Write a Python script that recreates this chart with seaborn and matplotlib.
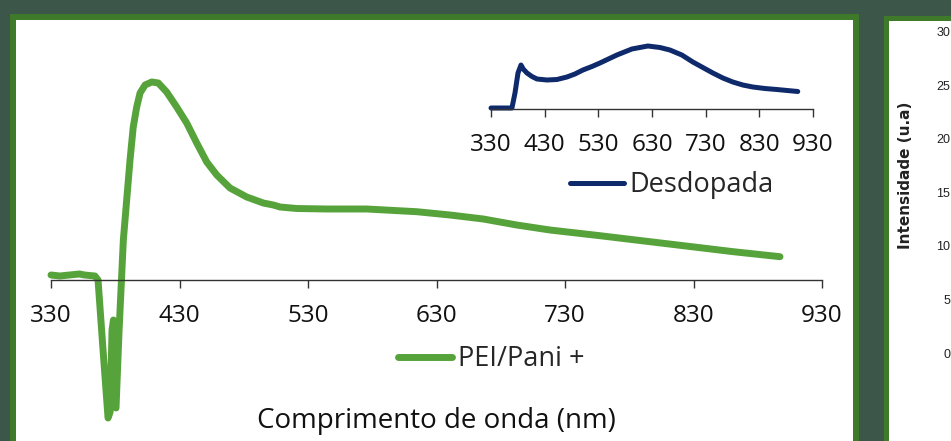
import matplotlib.pyplot as plt
import matplotlib.patches as patches
import seaborn as sns

# PEI/Pani + spectrum (main chart)
wl_pani = [330, 337, 340.5, 348.3, 352.2, 356.1, 360, 364.2, 366.6, 370.5, 374.4, 376, 377.5,
           378.6, 379.4, 380.6, 383, 386.3, 388.9, 391.5, 394.0, 396.7, 399.3, 403.2, 408.4,
           413.5, 420.0, 427.8, 435.6, 443.4, 451.2, 459.0, 469.3, 482.3, 495.2, 503.0,
           508.2, 521.2, 544.6, 575.7, 614.6, 640.5, 666.4, 692.4, 718.3, 757.2, 796.1,
           835.1, 861.0, 897.3]
int_pani = [0.5, 0.4, 0.45, 0.55, 0.6, 0.5, 0.45, 0.4, 0.0, -7.0, -13.8, -13.2, -5.0,
            -4.0, -12.5, -12.8, -5.0, 4.0, 8.0, 12.0, 15.3, 17.3, 18.7, 19.5, 19.8,
            19.7, 18.8, 17.3, 15.7, 13.7, 11.8, 10.5, 9.2, 8.3, 7.7, 7.5,
            7.3, 7.15, 7.1, 7.1, 6.83, 6.5, 6.1, 5.5, 5.0, 4.43, 3.83,
            3.23, 2.83, 2.33]

# Desdopada spectrum (inset)
wl_desd = [330, 369, 374.7, 380.3, 385.9, 390.0, 397.0, 406.3, 415.7, 434.3, 452.9, 471.5,
           486.4, 501.3, 518.1, 533.0, 564.6, 592.5, 622.3, 644.7, 663.3, 685.6, 706.1,
           724.7, 743.4, 762.0, 780.6, 799.2, 817.8, 840.2, 862.5, 901.6]
int_desd = [0.1, 0.1, 1.6, 3.6, 4.4, 4.0, 3.6, 3.25, 3.0, 2.9, 2.95, 3.2,
            3.5, 3.9, 4.25, 4.6, 5.4, 6.0, 6.3, 6.15, 5.9, 5.4, 4.7,
            4.15, 3.6, 3.1, 2.7, 2.4, 2.2, 2.05, 1.95, 1.75]

x_ticks = [330, 430, 530, 630, 730, 830, 930]
side_ticks = [0, 5, 10, 15, 20, 25, 30]

sns.set_theme(style='white')
plt.rcParams['font.family'] = ['Open Sans', 'DejaVu Sans']
plt.rcParams['lines.solid_capstyle'] = 'round'

W, H = 951, 441
fig = plt.figure(figsize=(W / 100, H / 100), dpi=100)
fig.patch.set_facecolor('#3d564a')


def fx(px):
    return px / W


def fy(py):
    return 1 - py / H


# white slide panels with green borders (behind the charts)
fig.add_artist(patches.Rectangle((fx(13), fy(470)), fx(856) - fx(13), fy(17) - fy(470),
                                 transform=fig.transFigure, facecolor='white',
                                 edgecolor='#3f7a2a', linewidth=4.3, zorder=-10))
fig.add_artist(patches.Rectangle((fx(885.5), fy(470)), fx(1000) - fx(885.5), fy(17.5) - fy(470),
                                 transform=fig.transFigure, facecolor='white',
                                 edgecolor='#3f7a2a', linewidth=3.6, zorder=-10))

tick_color = '#333333'

# main chart
ax = fig.add_axes([fx(51), fy(280), fx(822) - fx(51), 220 / H])
ax.patch.set_alpha(0)
sns.lineplot(x=wl_pani, y=int_pani, ax=ax, color='#57a33b', linewidth=5,
             sort=False, estimator=None, label='PEI/Pani +', clip_on=False)
ax.set_xlim(330, 930)
ax.set_ylim(0, 22)
ax.set_xticks(x_ticks)
ax.set_yticks([])
for s in ['left', 'right', 'top']:
    ax.spines[s].set_visible(False)
ax.spines['bottom'].set_color(tick_color)
ax.spines['bottom'].set_linewidth(1.0)
ax.tick_params(axis='x', direction='out', length=6, width=1.0, color=tick_color,
               pad=11, labelsize=17.5, labelcolor='#111111', bottom=True)
ax.set_xlabel('Comprimento de onda (nm)', fontsize=20, color='#111111', labelpad=57)
ax.legend(loc='center left', bbox_to_anchor=(fx(398), fy(359)), bbox_transform=fig.transFigure,
          frameon=False, fontsize=19.5, handlelength=2.0, handletextpad=0.2,
          borderpad=0, borderaxespad=0)

# inset chart
ax2 = fig.add_axes([fx(491), fy(109), fx(813) - fx(491), 69 / H])
ax2.patch.set_alpha(0)
sns.lineplot(x=wl_desd, y=int_desd, ax=ax2, color='#0f2a6b', linewidth=3.6,
             sort=False, estimator=None, label='Desdopada', clip_on=False)
ax2.set_xlim(330, 930)
ax2.set_ylim(0, 6.9)
ax2.set_xticks(x_ticks)
ax2.set_yticks([])
for s in ['left', 'right', 'top']:
    ax2.spines[s].set_visible(False)
ax2.spines['bottom'].set_color(tick_color)
ax2.spines['bottom'].set_linewidth(1.0)
ax2.tick_params(axis='x', direction='out', length=6, width=1.0, color=tick_color,
                pad=11, labelsize=17.5, labelcolor='#111111', bottom=True)
ax2.legend(loc='center left', bbox_to_anchor=(fx(570), fy(185)), bbox_transform=fig.transFigure,
           frameon=False, fontsize=19.5, handlelength=2.0, handletextpad=0.2,
           borderpad=0, borderaxespad=0)

# partially visible neighbouring chart on the right
ax3 = fig.add_axes([fx(953), fy(353), 0.05, 321 / H])
ax3.patch.set_alpha(0)
ax3.set_ylim(0, 30)
ax3.set_yticks(side_ticks)
ax3.set_xticks([])
for s in ax3.spines.values():
    s.set_visible(False)
ax3.tick_params(axis='y', length=0, pad=2, labelsize=9, labelcolor='#222222')
for lab in ax3.get_yticklabels():
    lab.set_family(['Liberation Sans', 'DejaVu Sans'])
ax3.set_ylabel('Intensidade (u.a)', fontsize=11, fontweight='bold', color='#222222',
               family=['DejaVu Sans'])
ax3.yaxis.set_label_coords(-0.84, 0.555)

fig.savefig('out.png', dpi=100, facecolor=fig.get_facecolor())
